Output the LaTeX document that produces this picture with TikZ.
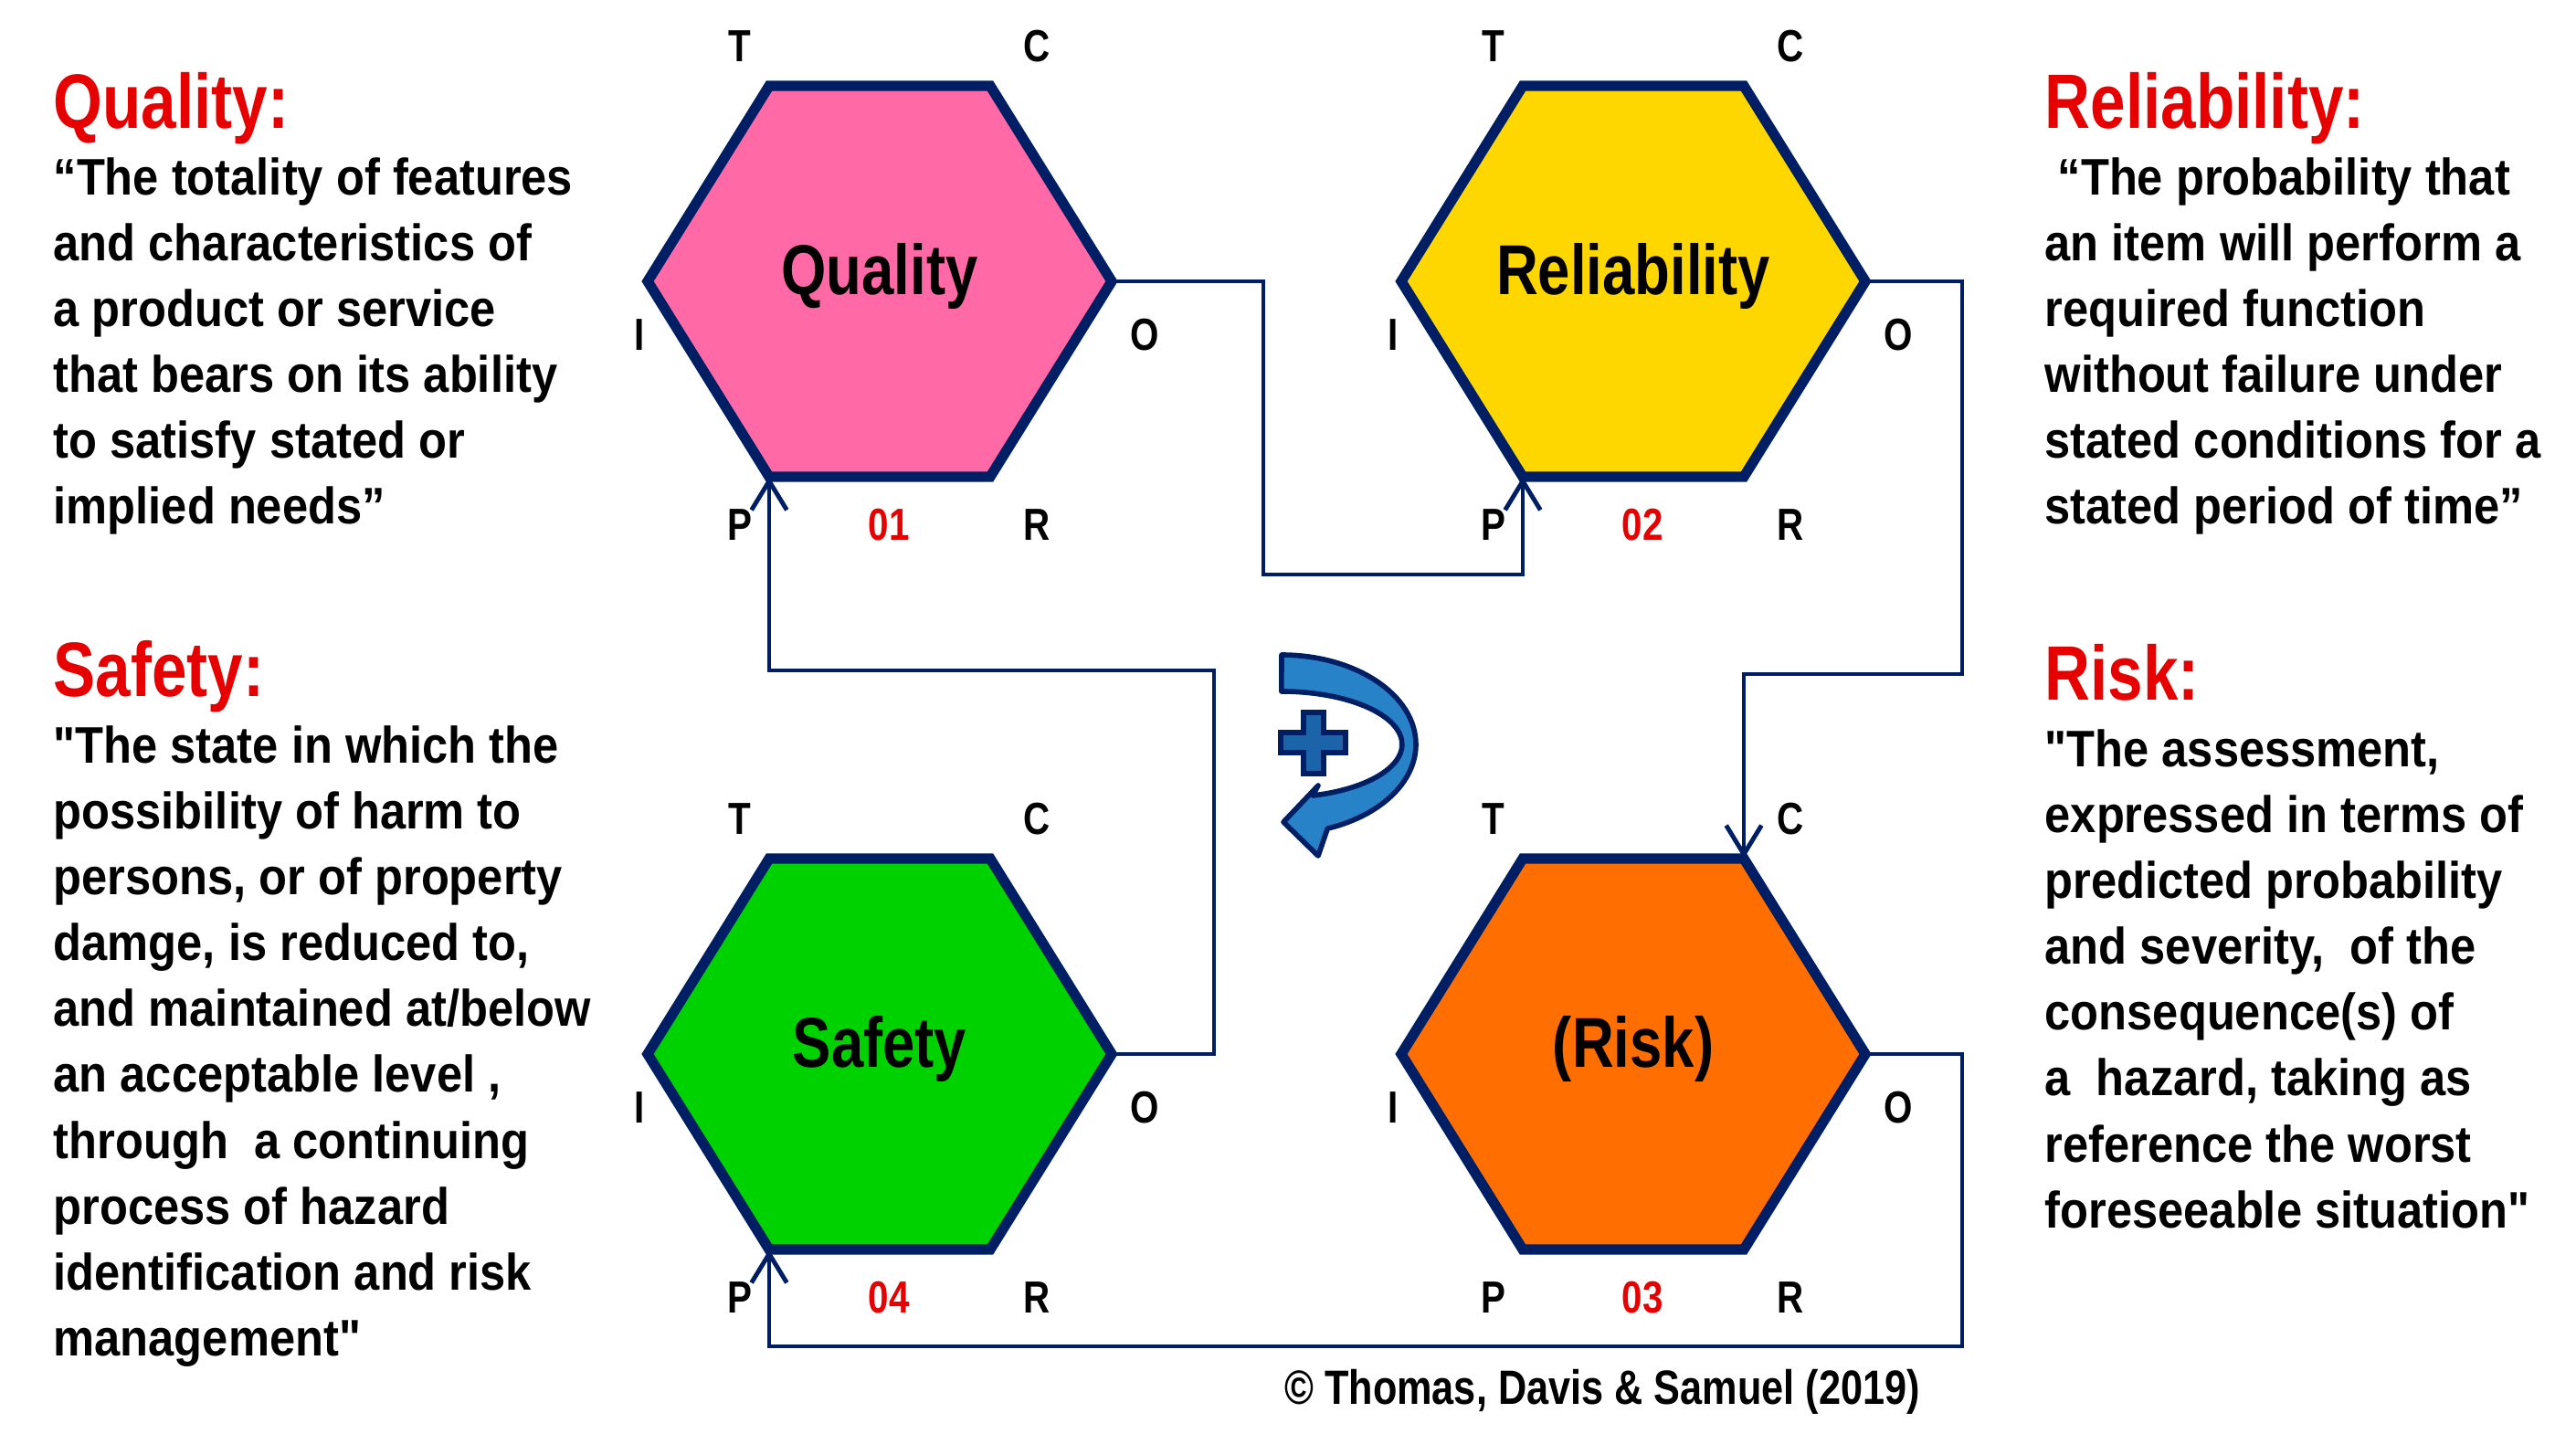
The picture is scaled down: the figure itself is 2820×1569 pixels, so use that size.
\documentclass[tikz,border=0pt]{standalone}
\usepackage{fontspec}
\usetikzlibrary{arrows.meta}
\setmainfont{Liberation Sans}
\newfontfamily\nar{Liberation Sans}[FakeStretch=0.82]
\newfontfamily\narb{Liberation Sans}[FakeStretch=0.9]
\begin{document}
\definecolor{navy}{RGB}{0,30,100}
\definecolor{qpink}{RGB}{255,105,165}
\definecolor{ryel}{RGB}{255,215,0}
\definecolor{sgreen}{RGB}{0,210,0}
\definecolor{korange}{RGB}{255,110,0}
\definecolor{ttred}{RGB}{230,0,0}
\definecolor{arrblue}{RGB}{40,130,200}
\begin{tikzpicture}[x=0.01cm,y=-0.01cm,
  hexbd/.style={draw=navy,line width=3.2pt,line join=miter},
  hexlab/.style={font=\nar\fontsize{22}{26}\bfseries\selectfont},
  port/.style={font=\nar\fontsize{14}{16}\bfseries\selectfont},
  num/.style={font=\nar\fontsize{14}{16}\bfseries\selectfont,text=ttred},
  conn/.style={draw=navy,line width=1.4pt,-{Straight Barb[length=9pt,width=11pt]}},
  ttl/.style={anchor=base west,font=\nar\fontsize{24}{28}\bfseries\selectfont,text=ttred,inner sep=0pt},
  body/.style={anchor=north west,align=left,inner sep=0pt,font=\narb\fontsize{16}{20.5}\bfseries\selectfont}]
\useasboundingbox (0,0) rectangle (2820,1569);
\newcommand\hexa[6]{%
  \begin{scope}[shift={(#2,#3)}]
  \path[hexbd,fill=#4] (-121,-214) -- (121,-214) -- (254,0) -- (121,214) -- (-121,214) -- (-254,0) -- cycle;
  \node[hexlab] (#1) at (0,-6) {#5};
  \coordinate (#1-O) at (254,0);
  \coordinate (#1-P) at (-121,214);
  \coordinate (#1-C) at (121,-214);
  \node[port] (#1-t) at (-153,-257) {T};
  \node[port] (#1-c) at (172,-257) {C};
  \node[port] (#1-i) at (-263,59) {I};
  \node[port] (#1-o) at (290,59) {O};
  \node[port] (#1-p) at (-153,267) {P};
  \node[num] (#1-n) at (10,267) {#6};
  \node[port] (#1-r) at (172,267) {R};
  \end{scope}}
\hexa{q}{963}{308}{qpink}{Quality}{01}
\hexa{r}{1788}{308}{ryel}{Reliability}{02}
\hexa{k}{1788}{1154}{korange}{(Risk)}{03}
\hexa{s}{963}{1154}{sgreen}{Safety}{04}
% connectors
\draw[conn] (q-O) -| (1383,629) -| (r-P);
\draw[conn] (r-O) -| (2148,738) -| (k-C);
\draw[conn] (k-O) -| (2148,1474) -| (s-P);
\draw[conn] (s-O) -| (1329,734) -| (q-P);
% cycle arrow
\path[draw=navy,line width=1.6pt,fill=arrblue,line join=round]
  (1403,717) arc[start angle=-90,end angle=70,x radius=147,y radius=98]
  -- (1443,937) -- (1405,900) -- (1443,860) -- (1437,871)
  arc[start angle=75,end angle=-90,x radius=132,y radius=58] -- cycle;
\path[draw=navy,line width=1.6pt,fill=arrblue!70!navy]
  (1427,780) -- (1449,780) -- (1449,802) -- (1473,802) -- (1473,824) -- (1449,824) -- (1449,847)
  -- (1427,847) -- (1427,824) -- (1402,824) -- (1402,802) -- (1427,802) -- cycle;
% texts
\node[ttl] (tq) at (58,140) {Quality:};
\node[body] (bq) at (58,172) {“The totality of features\\and characteristics of\\a product or service\\that bears on its ability\\to satisfy stated or\\implied needs”};
\node[ttl] (ts) at (58,762) {Safety:};
\node[body] (bs) at (58,794) {"The state in which the\\possibility of harm to\\persons, or of property\\damge, is reduced to,\\and maintained at/below\\an acceptable level ,\\through\ \ a continuing\\process of hazard\\identification and risk\\management"};
\node[ttl] (tr) at (2238,140) {Reliability:};
\node[body] (br) at (2238,172) {\ “The probability that\\an item will perform a\\required function\\without failure under\\stated conditions for a\\stated period of time”};
\node[ttl] (tk) at (2238,766) {Risk:};
\node[body] (bk) at (2238,798) {"The assessment,\\expressed in terms of\\predicted probability\\and severity,\ \ of the\\consequence(s) of\\a\ \ hazard, taking as\\reference the worst\\foreseeable situation"};
\node[font=\nar\fontsize{15}{18}\bfseries\selectfont] (cp) at (1754,1524) {© Thomas, Davis \& Samuel (2019)};
\end{tikzpicture}
\end{document}
